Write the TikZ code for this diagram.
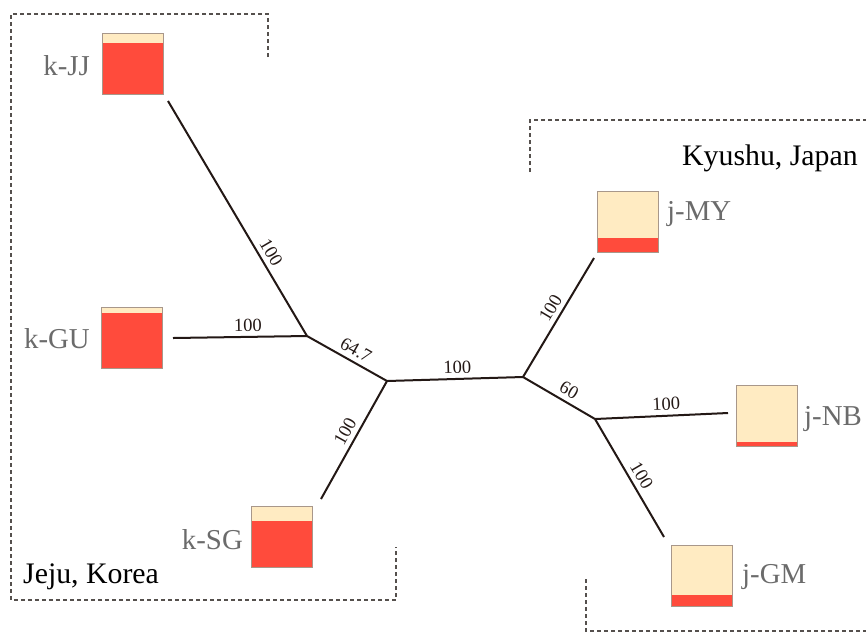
\documentclass[tikz,border=0pt]{standalone}
\usepackage{fontspec}
\setmainfont{Liberation Serif}
\definecolor{kred}{HTML}{FF4B3C}
\definecolor{beige}{HTML}{FFEBC2}
\definecolor{boxline}{HTML}{A8978A}
\definecolor{treeline}{HTML}{231815}
\definecolor{tipgray}{HTML}{6B6B6B}
\definecolor{dashgray}{HTML}{55504D}
\tikzset{
  box/.style={draw=boxline, line width=0.8pt, minimum size=61pt, inner sep=0pt, fill=beige},
  kbox/.style={box, path picture={\fill[kred] (path picture bounding box.south west) rectangle ([yshift=-#1]path picture bounding box.north east);}},
  jbox/.style={box, path picture={\fill[kred] (path picture bounding box.south west) rectangle ([yshift=#1]path picture bounding box.south east);}},
  tip/.style={font=\fontsize{28.8}{31}\selectfont, text=tipgray, inner sep=0pt},
  region/.style={font=\fontsize{29.8}{32}\selectfont, text=black, inner sep=0pt, anchor=base west},
  branch/.style={draw=treeline, line width=2pt},
  blab/.style={font=\fontsize{18.5}{20}\selectfont, text=treeline, sloped, above=1.5pt, inner sep=3pt},
  frame/.style={draw=dashgray, line width=1.2pt, dash pattern=on 4pt off 3pt}
}
\begin{document}
\begin{tikzpicture}[x=1pt, y=-1pt]
\useasboundingbox (0,0) rectangle (866,633);
% dashed region frames
\draw[frame] (268,57) -- (268,14) -- (11,14) -- (11,600) -- (396,600) -- (396,547);
\draw[frame] (530,172) -- (530,120) -- (866,120);
\draw[frame] (586,579) -- (586,631) -- (866,631);
% region labels
\node[region] (korea) at (23,583) {Jeju, Korea};
\node[region] (japan) at (682,165) {Kyushu, Japan};
% boxes
\node[kbox=10pt] (kJJ) at (132.5,63.5) {};
\node[kbox=6pt]  (kGU) at (131.5,337.5) {};
\node[kbox=15pt] (kSG) at (281.5,536.5) {};
\node[jbox=14pt] (jMY) at (627.5,221.5) {};
\node[jbox=4pt]  (jNB) at (766.5,415.5) {};
\node[jbox=11pt] (jGM) at (701.5,575.5) {};
% tip labels
\node[tip, anchor=base east] (lJJ) at (90,75) {k-JJ};
\node[tip, anchor=base east] (lGU) at (90,348) {k-GU};
\node[tip, anchor=base east] (lSG) at (243,549) {k-SG};
\node[tip, anchor=base west] (lMY) at (667,220) {j-MY};
\node[tip, anchor=base west] (lNB) at (804,425) {j-NB};
\node[tip, anchor=base west] (lGM) at (742,583) {j-GM};
% tree vertices
\coordinate (A) at (307,336);
\coordinate (B) at (387,381);
\coordinate (C) at (523,377);
\coordinate (D) at (595,419);
\coordinate (eJJ) at (168,101);
\coordinate (eGU) at (173,338);
\coordinate (eSG) at (321,499);
\coordinate (eMY) at (594,258);
\coordinate (eNB) at (728,413);
\coordinate (eGM) at (664,537);
% branches
\draw[branch] (eJJ) -- node[blab, pos=0.67] {100} (A);
\draw[branch] (eGU) -- node[blab, pos=0.56] {100} (A);
\draw[branch] (A) -- node[blab, pos=0.54] {64.7} (B);
\draw[branch] (eSG) -- node[blab, pos=0.52] {100} (B);
\draw[branch] (B) -- node[blab, pos=0.52] {100} (C);
\draw[branch] (C) -- node[blab, pos=0.53] {100} (eMY);
\draw[branch] (C) -- node[blab, pos=0.56] {60} (D);
\draw[branch] (D) -- node[blab, pos=0.54] {100} (eNB);
\draw[branch] (D) -- node[blab, pos=0.53] {100} (eGM);
\end{tikzpicture}
\end{document}
